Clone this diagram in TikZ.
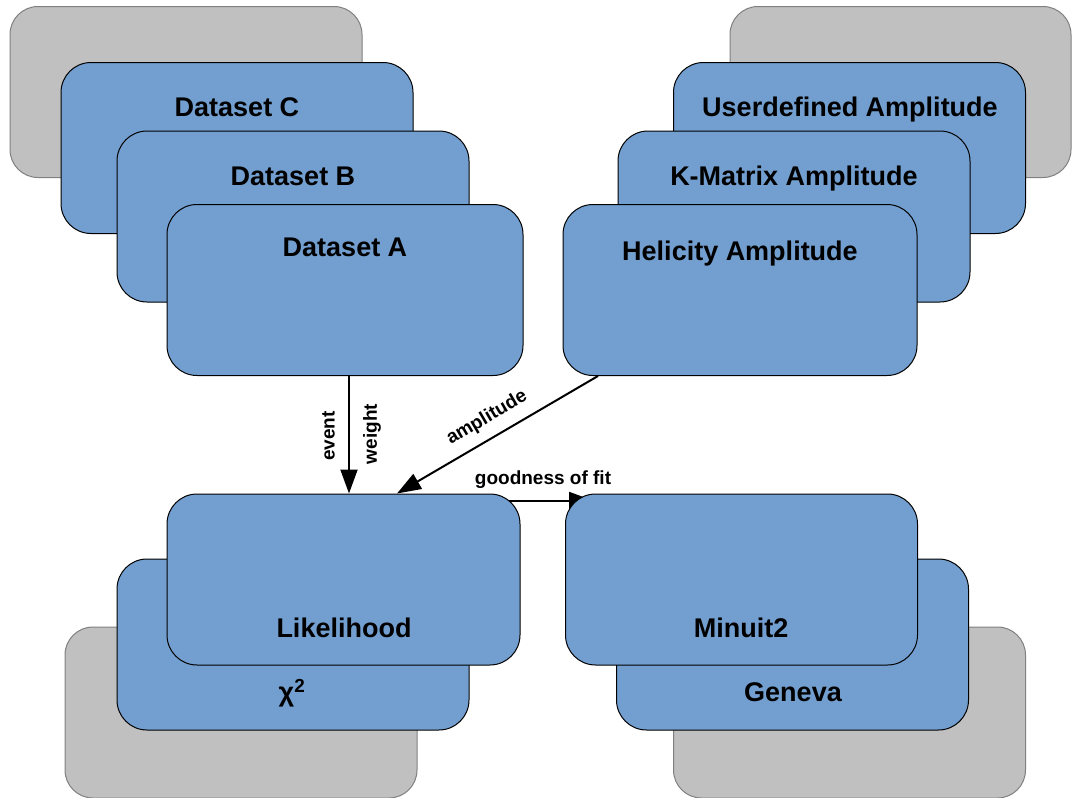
\documentclass[tikz,border=0pt]{standalone}
\usepackage{fontspec}
\setmainfont{Liberation Sans}
\usetikzlibrary{arrows.meta}
\definecolor{boxblue}{RGB}{114,159,207}
\definecolor{boxgray}{RGB}{192,192,192}
\definecolor{graybord}{RGB}{128,128,128}
\pgfdeclarelayer{bg}
\pgfsetlayers{bg,main}
\begin{document}
\begin{tikzpicture}[x=1pt,y=-1pt,
  bluebox/.style={draw=black, line width=1pt, fill=boxblue, rounded corners=30pt, inner sep=0pt, minimum width=352pt, minimum height=171pt},
  graybox/.style={draw=graybord, line width=1pt, fill=boxgray, rounded corners=28pt, inner sep=0pt, minimum width=352pt, minimum height=171pt},
  title/.style={font=\fontsize{27}{32}\selectfont\bfseries, anchor=base, inner sep=0pt},
  lbl/.style={font=\fontsize{19}{22}\selectfont\bfseries, inner sep=0pt},
  arr/.style={line width=2pt, -{Triangle[width=17pt,length=24pt]}}]
\useasboundingbox (0,0) rectangle (1072,798);

% top-left stack
\node[graybox] (gTL) at (186,92) {};
\node[bluebox] (dsC) at (237,148) {};
\node[bluebox] (dsB) at (293,216.5) {};
\node[bluebox, minimum width=356pt] (dsA) at (345,290) {};
\node[title] (tC) at (237,116) {Dataset C};
\node[title] (tB) at (293,185) {Dataset B};
\node[title] (tA) at (345,256) {Dataset A};

% top-right stack
\node[graybox, minimum width=341pt] (gTR) at (900.5,92) {};
\node[bluebox] (ud) at (849.5,148) {};
\node[bluebox] (km) at (794,216.5) {};
\node[bluebox, minimum width=354pt] (hel) at (740,290) {};
\node[title] (tud) at (850,116) {Userdefined Amplitude};
\node[title] (tkm) at (794,185) {K-Matrix Amplitude};
\node[title] (thel) at (740,260) {Helicity Amplitude};

% bottom-left stack
\node[graybox] (gBL) at (241,712.5) {};
\node[bluebox] (chi) at (293,644.5) {};
\node[bluebox, minimum width=353pt] (lik) at (343.5,579.5) {};
\node[title] (tlik) at (344,637) {Likelihood};
\node[title, anchor=center] (tchi) at (292,693) {χ\textsuperscript{2}};

% bottom-right stack
\node[graybox] (gBR) at (849.5,712.5) {};
\node[bluebox] (gen) at (792.5,644.5) {};
\node[bluebox] (min) at (741.5,579.5) {};
\node[title] (tmin) at (741,637) {Minuit2};
\node[title] (tgen) at (793,701) {Geneva};

% connectors
\draw[arr] ([xshift=4pt]dsA.south) -- ([xshift=4pt]dsA.south |- lik.north);
\draw[arr] ([xshift=-142pt]hel.south) -- ([xshift=53.5pt]lik.north);
\begin{pgfonlayer}{bg}
\draw[arr] ([xshift=-30pt,yshift=-7pt]lik.north east) -- ([xshift=28pt,yshift=-7pt]min.north west);
\end{pgfonlayer}

\node[lbl, rotate=90] (lev) at (328.5,436) {event};
\node[lbl, rotate=90] (lwt) at (372,434) {weight};
\node[lbl, rotate=30.4] (lamp) at (487,418) {amplitude};
\node[lbl] (lgof) at (543,480) {goodness of fit};
\end{tikzpicture}
\end{document}
